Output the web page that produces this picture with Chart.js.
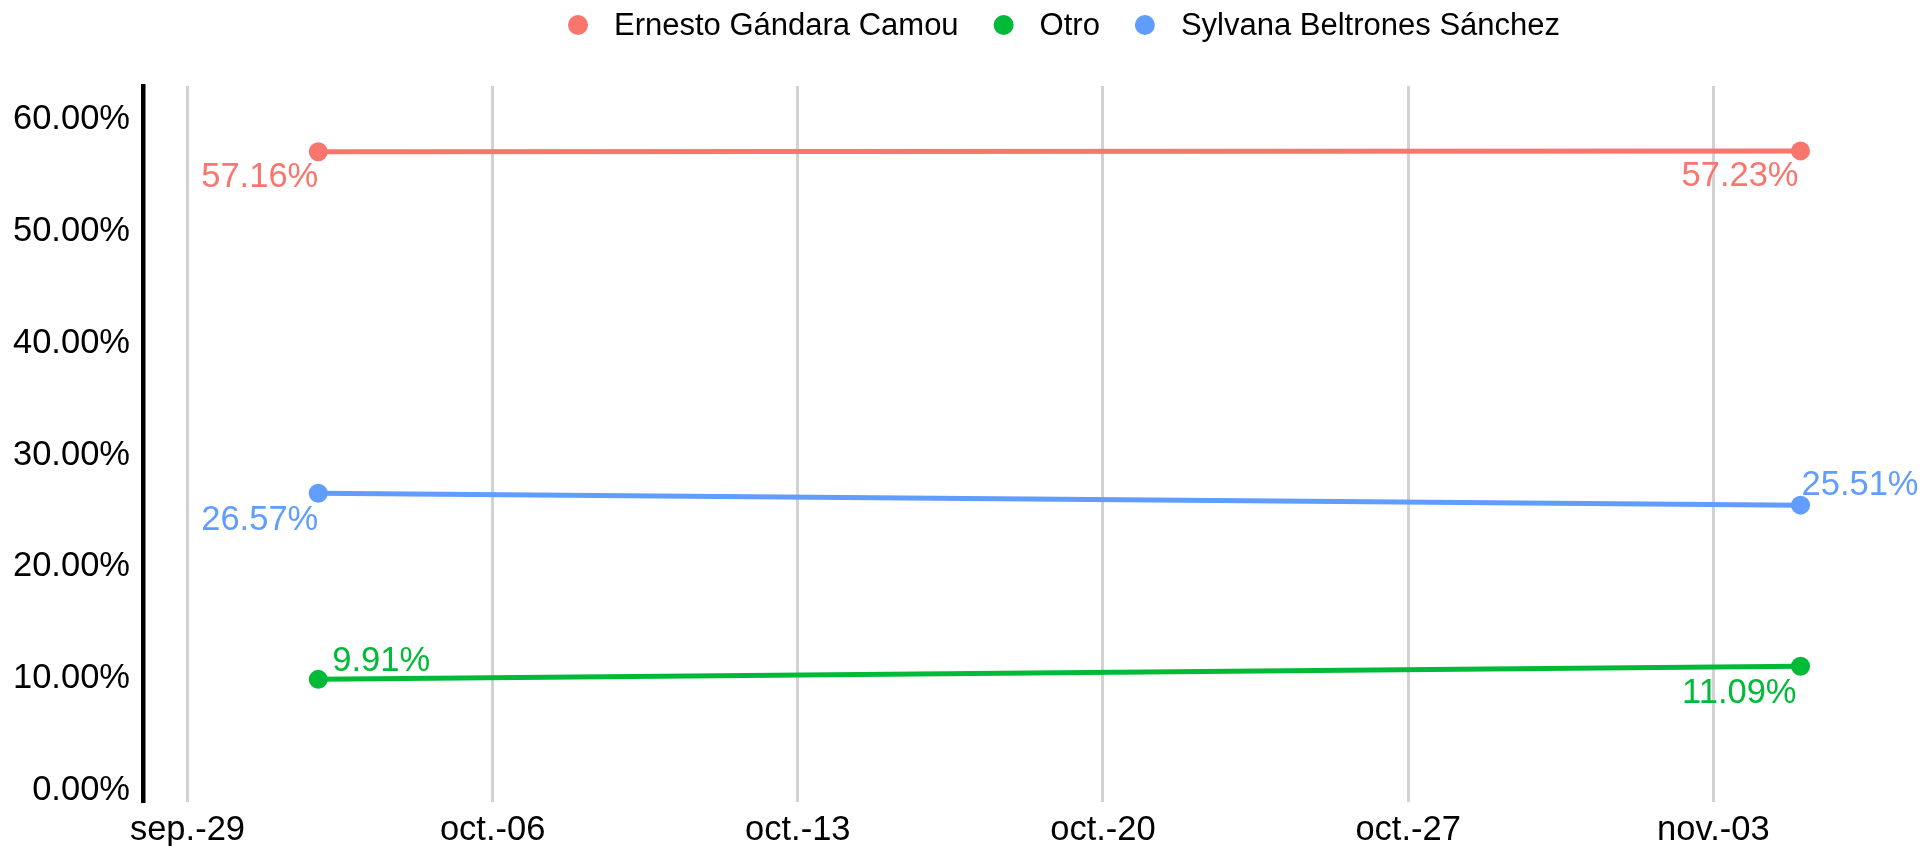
<!DOCTYPE html>
<html>
<head>
<meta charset="utf-8">
<script src="https://cdn.jsdelivr.net/npm/chart.js@4/dist/chart.umd.min.js"></script>
<style>
  body { margin: 0; background: #fff; }
  #wrap { width: 1923px; height: 846px; position: relative; }
</style>
</head>
<body>
<div id="wrap"><canvas id="poll-chart"></canvas></div>
<script>
// poll data
const candidates = ['Ernesto Gándara Camou', 'Otro', 'Sylvana Beltrones Sánchez'];
const pollDates = ['2020-10-02', '2020-11-05'];
const ernesto = [57.16, 57.23];
const otro = [9.91, 11.09];
const sylvana = [26.57, 25.51];
const colors = ['#F8766D', '#00BA38', '#619CFF'];

const tickDates = ['2020-09-29', '2020-10-06', '2020-10-13', '2020-10-20', '2020-10-27', '2020-11-03'];
const tickLabels = ['sep.-29', 'oct.-06', 'oct.-13', 'oct.-20', 'oct.-27', 'nov.-03'];
const yTicks = [0, 10, 20, 30, 40, 50, 60];

const FONT = '"Liberation Sans", Arial, sans-serif';

function dayOf(s) {
    return (Date.parse(s) - Date.parse(tickDates[0])) / 86400000;
}

// where each value label sits relative to its point
const labelPlace = [
    [{align: 'right', dx: 0, dy: 26}, {align: 'right', dx: -2, dy: 26}],
    [{align: 'left', dx: 14, dy: -18}, {align: 'right', dx: -4, dy: 27}],
    [{align: 'right', dx: 0, dy: 27}, {align: 'left', dx: 1, dy: -20}]
];

const seriesValues = [ernesto, otro, sylvana];

const datasets = candidates.map((name, i) => ({
    label: name,
    data: seriesValues[i].map((v, j) => ({x: dayOf(pollDates[j]), y: v})),
    borderColor: colors[i],
    backgroundColor: colors[i],
    borderWidth: 5,
    pointRadius: 9.5,
    pointBorderWidth: 0,
    pointBackgroundColor: colors[i],
    tension: 0
}));

const valueLabels = {
    id: 'valueLabels',
    afterDatasetsDraw(chart) {
        const ctx = chart.ctx;
        ctx.save();
        ctx.font = '34.5px ' + FONT;
        ctx.textBaseline = 'middle';
        chart.data.datasets.forEach((ds, i) => {
            const meta = chart.getDatasetMeta(i);
            meta.data.forEach((pt, j) => {
                const pl = labelPlace[i][j];
                ctx.fillStyle = colors[i];
                ctx.textAlign = pl.align;
                ctx.fillText(ds.data[j].y.toFixed(2) + '%', pt.x + pl.dx, pt.y + pl.dy);
            });
        });
        ctx.restore();
    }
};

// legend row like the original: dot, name, dot, name...
const topLegend = {
    id: 'topLegend',
    afterDraw(chart) {
        const ctx = chart.ctx;
        const r = 10, toText = 36, gap = 35, y = 25, centerX = 1064;
        ctx.save();
        ctx.font = '31px ' + FONT;
        ctx.textBaseline = 'middle';
        ctx.textAlign = 'left';
        const widths = candidates.map(c => ctx.measureText(c).width);
        let total = 0;
        widths.forEach((w, i) => { total += r + toText + w + (i < widths.length - 1 ? gap : 0); });
        let x = centerX - total / 2;
        candidates.forEach((c, i) => {
            const cx = x + r;
            ctx.fillStyle = colors[i];
            ctx.beginPath();
            ctx.arc(cx, y, r, 0, Math.PI * 2);
            ctx.fill();
            ctx.fillStyle = '#000';
            ctx.fillText(c, cx + toText, y + 1);
            x = cx + toText + widths[i] + gap;
        });
        ctx.restore();
    }
};

new Chart(document.getElementById('poll-chart'), {
    type: 'line',
    data: {datasets: datasets},
    plugins: [valueLabels, topLegend],
    options: {
        responsive: true,
        maintainAspectRatio: false,
        animation: false,
        layout: {padding: {top: 86, right: 10, left: 0, bottom: 0}},
        plugins: {
            legend: {display: false},
            tooltip: {enabled: false}
        },
        scales: {
            x: {
                type: 'linear',
                min: -1.02,
                max: 39.58,
                afterBuildTicks: (scale) => {
                    scale.ticks = tickDates.map(d => ({value: dayOf(d)}));
                },
                afterFit: (scale) => { scale.height = 44; },
                ticks: {
                    color: '#000',
                    font: {family: FONT, size: 34.5},
                    padding: 8,
                    maxRotation: 0,
                    autoSkip: false,
                    callback: (v) => {
                        const k = tickDates.findIndex(d => dayOf(d) === v);
                        return k >= 0 ? tickLabels[k] : '';
                    }
                },
                grid: {color: '#d2d2d2', lineWidth: 3, drawTicks: false},
                border: {display: false}
            },
            y: {
                min: -1.07,
                max: 63.04,
                afterBuildTicks: (scale) => {
                    scale.ticks = yTicks.map(v => ({value: v}));
                },
                afterFit: (scale) => { scale.width = 143; },
                ticks: {
                    color: '#000',
                    font: {family: FONT, size: 34.5},
                    padding: 13,
                    callback: (v) => v.toFixed(2) + '%'
                },
                grid: {display: false, drawTicks: false},
                border: {display: true, color: '#000', width: 4.5}
            }
        }
    }
});
</script>
</body>
</html>
